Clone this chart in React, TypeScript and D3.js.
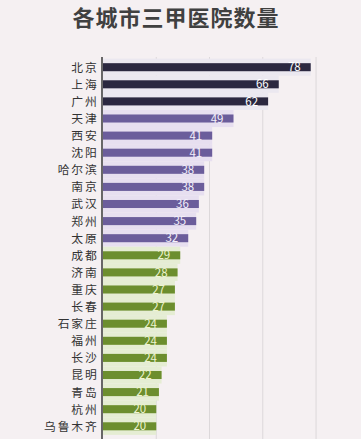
import React from "react";
import * as d3 from "d3";

const title = "各城市三甲医院数量";
const cities = ["北京", "上海", "广州", "天津", "西安", "沈阳", "哈尔滨", "南京", "武汉", "郑州", "太原", "成都", "济南", "重庆", "长春", "石家庄", "福州", "长沙", "昆明", "青岛", "杭州", "乌鲁木齐"];
const counts = [78, 66, 62, 49, 41, 41, 38, 38, 36, 35, 32, 29, 28, 27, 27, 24, 24, 24, 22, 21, 20, 20];
const tiers = [0, 0, 0, 1, 1, 1, 1, 1, 1, 1, 1, 2, 2, 2, 2, 2, 2, 2, 2, 2, 2, 2];
const gridTicks = [20, 40, 60, 80, 100];

const W = 361;
const H = 439;
const barColors = ["#2b2840", "#6b5d9b", "#6c8e2e"];
const paleColors = ["#ebe8f0", "#e7dff0", "#e5edd3"];
const labelColors = ["#ffffff", "#f3f0fa", "#eef4cf"];

export default function App() {
  const step = 17.1;
  const y0 = 67.2 - step / 2;
  const y = d3.scaleBand<string>().domain(cities).range([y0, y0 + cities.length * step]).paddingInner(0.53).paddingOuter(0.265);
  const x = d3.scaleLinear().domain([0, 100]).range([103, 103 + 266.3]);
  const bw = y.bandwidth();
  return (
    <svg width={W} height={H} style={{ position: "fixed", left: 0, top: 0, background: "#f5f0f2" }}
      fontFamily="'Noto Sans CJK SC', 'Noto Sans', sans-serif">
      <rect x={0} y={0} width={W} height={H} fill="#f5f0f2" />
      <text x={176} y={25.5} textAnchor="middle" fontSize={22} fontWeight={700} fill="#404040" letterSpacing={1}>{title}</text>
      {gridTicks.map((t) => (
        <line key={t} x1={x(t)} x2={x(t)} y1={57} y2={H} stroke="#dcd8da" strokeWidth={1} />
      ))}
      {cities.map((c, i) => (
        <rect key={"p" + c} x={x(0)} y={(y(c) as number) + bw / 2 - step / 2} width={x(counts[i]) - x(0)} height={step} fill={paleColors[tiers[i]]} />
      ))}
      {cities.map((c, i) => (
        <g key={c}>
          <rect x={x(0)} y={y(c)} width={x(counts[i]) - x(0)} height={bw} fill={barColors[tiers[i]]} />
          <text x={x(counts[i]) - 10} y={(y(c) as number) + bw / 2} dy="0.36em" textAnchor="end" fontSize={11.5} fill={labelColors[tiers[i]]}>{counts[i]}</text>
          <text x={98.5} y={(y(c) as number) + bw / 2} dy="0.38em" textAnchor="end" fontSize={11.8} letterSpacing={1.8} fill="#333">{c}</text>
        </g>
      ))}
      <line x1={102} x2={102} y1={57} y2={H} stroke="#444" strokeWidth={1.6} />
    </svg>
  );
}
